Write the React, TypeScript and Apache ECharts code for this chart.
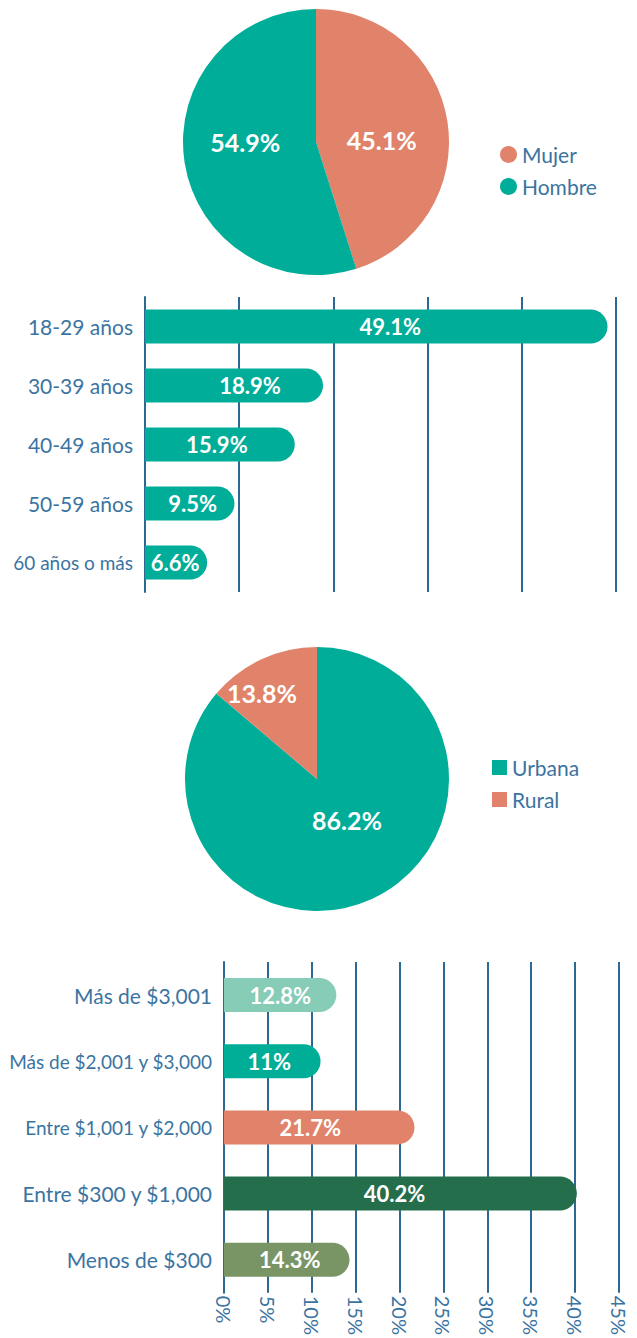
import React, { useEffect, useRef } from 'react';
import * as echarts from 'echarts';

const sexNames = ['Mujer', 'Hombre'];
const sexValues = [45.1, 54.9];
const ageCategories = ['18-29 años', '30-39 años', '40-49 años', '50-59 años', '60 años o más'];
const ageValues = [49.1, 18.9, 15.9, 9.5, 6.6];
const areaNames = ['Urbana', 'Rural'];
const areaValues = [86.2, 13.8];
const incomeCategories = [
  'Más de $3,001',
  'Más de $2,001 y $3,000',
  'Entre $1,001 y $2,000',
  'Entre $300 y $1,000',
  'Menos de $300',
];
const incomeValues = [12.8, 11, 21.7, 40.2, 14.3];

const TEAL = '#00ad98';
const SALMON = '#e0836a';
const incomeColors = ['#86ccb6', '#00ad97', '#e0836a', '#246e4c', '#799566'];
const TEXT = '#3b74a1';
const LINE = '#2b6893';
const FONT = 'Lato, "Noto Sans", sans-serif';
const condensed = ['60 años o más', 'Más de $2,001 y $3,000', 'Entre $1,001 y $2,000'];

const pie1Offsets = [
  [-3, 9],
  [-2, -11],
];
const pie2Offsets = [
  [1, -22],
  [-26, -23],
];
const ageLabelDx = [14, 16, -3, 3, -1];
const incomeLabelDx = [0, -3, -9, -6, 3];

export default function App() {
  const ref = useRef<HTMLDivElement>(null);
  useEffect(() => {
    document.body.style.margin = '0';
    if (!ref.current) return;
    const chart = echarts.init(ref.current, null, { renderer: 'svg' });
    const pieLabel = {
      show: true,
      position: 'inside',
      color: '#fff',
      fontFamily: FONT,
      fontWeight: 'bold',
      fontSize: 25,
      formatter: (p: any) => p.value + '%',
    };
    const barLabel = {
      show: true,
      position: 'inside',
      color: '#fff',
      fontFamily: FONT,
      fontWeight: 'bold',
      fontSize: 22,
      formatter: (p: any) => p.value + '%',
    };
    const catLabel = (margin: number) => ({
      color: TEXT,
      fontSize: 21,
      fontFamily: FONT,
      margin,
      formatter: (v: string) => (condensed.indexOf(v) >= 0 ? `{s|${v}}` : v),
      rich: { s: { fontSize: 19, color: TEXT, fontFamily: FONT } },
    });
    chart.setOption({
      animation: false,
      textStyle: { fontFamily: FONT },
      legend: [
        {
          data: sexNames,
          orient: 'vertical',
          left: 495,
          top: 139,
          icon: 'circle',
          itemWidth: 17,
          itemHeight: 17,
          itemGap: 11,
          textStyle: { color: TEXT, fontSize: 21, fontFamily: FONT },
        },
        {
          data: areaNames,
          orient: 'vertical',
          left: 487,
          top: 752,
          icon: 'rect',
          itemWidth: 15,
          itemHeight: 15,
          itemGap: 11,
          textStyle: { color: TEXT, fontSize: 21, fontFamily: FONT },
        },
      ],
      grid: [
        { left: 145, right: 21, top: 297, height: 295, containLabel: false },
        { left: 224, right: 18, top: 962, height: 342, containLabel: false },
      ],
      xAxis: [
        {
          gridIndex: 0,
          type: 'value',
          min: 0,
          max: 50,
          interval: 10,
          axisLine: { show: false },
          axisTick: { show: false },
          axisLabel: { show: false },
          splitLine: { show: true, lineStyle: { color: LINE, width: 2 } },
        },
        {
          gridIndex: 1,
          type: 'value',
          min: 0,
          max: 45,
          interval: 5,
          axisLine: { show: false },
          axisTick: { show: false },
          axisLabel: {
            show: true,
            rotate: -90,
            formatter: '{value}%',
            color: TEXT,
            fontSize: 20,
            fontFamily: FONT,
            margin: 3,
          },
          splitLine: { show: true, lineStyle: { color: LINE, width: 2 } },
        },
      ],
      yAxis: [
        {
          gridIndex: 0,
          type: 'category',
          data: ageCategories,
          inverse: true,
          axisLine: { show: true, lineStyle: { color: LINE, width: 2 } },
          axisTick: { show: false },
          axisLabel: catLabel(12),
        },
        {
          gridIndex: 1,
          type: 'category',
          data: incomeCategories,
          inverse: true,
          axisLine: { show: true, lineStyle: { color: LINE, width: 2 } },
          axisTick: { show: false },
          axisLabel: catLabel(12),
        },
      ],
      series: [
        {
          type: 'pie',
          name: 'Sexo',
          center: [316, 142],
          radius: [0, 133],
          startAngle: 90,
          clockwise: true,
          label: pieLabel,
          labelLine: { show: false },
          labelLayout: (p: any) => ({ dx: pie1Offsets[p.dataIndex][0], dy: pie1Offsets[p.dataIndex][1] }),
          itemStyle: { borderWidth: 0 },
          data: sexNames.map((n, i) => ({
            name: n,
            value: sexValues[i],
            itemStyle: { color: i === 0 ? SALMON : TEAL },
          })),
        },
        {
          type: 'bar',
          name: 'Edad',
          xAxisIndex: 0,
          yAxisIndex: 0,
          barWidth: 34,
          data: ageValues,
          itemStyle: { color: TEAL, borderRadius: [0, 17, 17, 0] },
          label: barLabel,
          labelLayout: (p: any) => ({ dx: ageLabelDx[p.dataIndex] }),
        },
        {
          type: 'pie',
          name: 'Área',
          center: [317, 779],
          radius: [0, 132],
          startAngle: 90,
          clockwise: true,
          label: pieLabel,
          labelLine: { show: false },
          labelLayout: (p: any) => ({ dx: pie2Offsets[p.dataIndex][0], dy: pie2Offsets[p.dataIndex][1] }),
          itemStyle: { borderWidth: 0 },
          data: areaNames.map((n, i) => ({
            name: n,
            value: areaValues[i],
            itemStyle: { color: i === 0 ? TEAL : SALMON },
          })),
        },
        {
          type: 'bar',
          name: 'Ingreso',
          xAxisIndex: 1,
          yAxisIndex: 1,
          barWidth: 34,
          data: incomeValues.map((v, i) => ({ value: v, itemStyle: { color: incomeColors[i] } })),
          itemStyle: { borderRadius: [0, 17, 17, 0] },
          label: barLabel,
          labelLayout: (p: any) => ({ dx: incomeLabelDx[p.dataIndex] }),
        },
      ],
    });
    return () => chart.dispose();
  }, []);
  return <div ref={ref} style={{ width: 637, height: 1338 }} />;
}
